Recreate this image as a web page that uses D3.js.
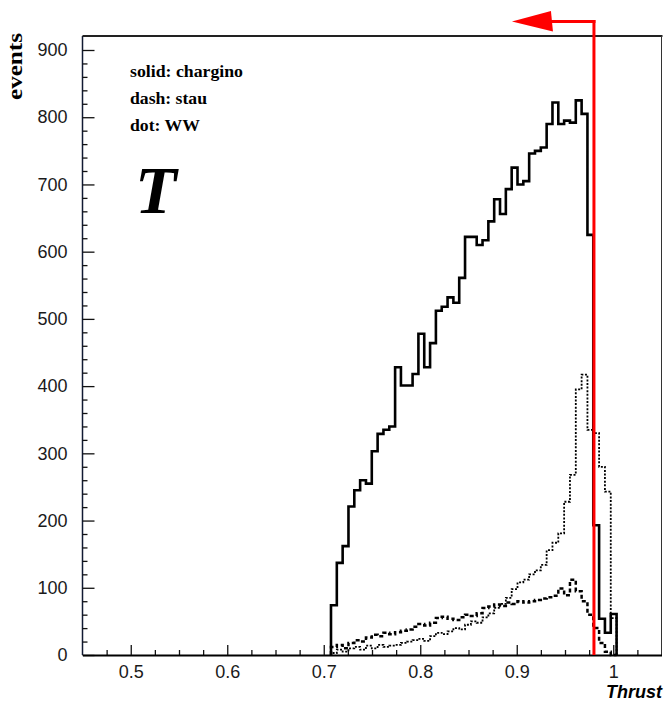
<!DOCTYPE html>
<html>
<head>
<meta charset="utf-8">
<script src="https://cdn.jsdelivr.net/npm/d3@7"></script>
<style>
  body { margin: 0; background: #fff; }
</style>
</head>
<body>
<svg id="chart"></svg>
<script>
// Thrust histograms, 49 equal bins starting at binStart
const binStart = 0.7075;
const binWidth = 0.00604;

// solid: chargino
const chargino = [74, 137, 162, 221, 245, 260, 255, 303, 329, 335, 340, 428, 401, 401, 418, 478, 428, 464, 512, 518,
  532, 524, 561, 622, 622, 610, 617, 645, 678, 656, 693, 725, 700, 705, 746, 750, 755, 790, 822, 790,
  795, 792, 825, 805, 625, 193, 54, 33, 61];
// dash: stau
const stau = [12, 15, 10, 18, 22, 20, 26, 30, 28, 33, 31, 34, 36, 38, 42, 46, 44, 48, 55, 57,
  54, 52, 56, 60, 58, 62, 70, 72, 75, 73, 78, 76, 80, 78, 80, 82, 84, 86, 88, 99,
  89, 112, 95, 80, 60, 40, 18, 5, 0];
// dot: WW
const ww = [3, 8, 5, 10, 12, 8, 14, 10, 15, 12, 14, 15, 18, 20, 22, 24, 21, 28, 33, 31,
  35, 40, 38, 45, 50, 48, 56, 62, 70, 76, 85, 98, 108, 112, 120, 126, 134, 156, 167, 181,
  228, 268, 395, 417, 335, 330, 280, 243, 55];

const xTicks = [0.5, 0.6, 0.7, 0.8, 0.9, 1];
const yTicks = [0, 100, 200, 300, 400, 500, 600, 700, 800, 900];
const cutValue = 0.98;
const legendLines = ["solid: chargino", "dash: stau", "dot: WW"];

const width = 665, height = 702;
const svg = d3.select("#chart").attr("width", width).attr("height", height);

const x = d3.scaleLinear().domain([0.45, 1.05]).range([82.5, 661.5]);
const y = d3.scaleLinear().domain([0, 900]).range([655, 50]);
const frameTop = 36;

// frame
svg.append("line").attr("x1", x.range()[0]).attr("x2", x.range()[0]).attr("y1", frameTop).attr("y2", y(0))
  .attr("stroke", "#111a33").attr("stroke-width", 1.5);
svg.append("line").attr("x1", x.range()[0]).attr("x2", x.range()[1] + 1).attr("y1", frameTop).attr("y2", frameTop)
  .attr("stroke", "#222").attr("stroke-width", 2.2);
svg.append("line").attr("x1", x.range()[1]).attr("x2", x.range()[1]).attr("y1", frameTop).attr("y2", y(0))
  .attr("stroke", "#333").attr("stroke-width", 1);

// y axis (ticks inside the frame)
const yMinor = d3.range(20, 920, 20).filter(d => d % 100 !== 0);
svg.append("g")
  .attr("transform", `translate(${x.range()[0]},0)`)
  .call(d3.axisLeft(y).tickValues(yMinor).tickSizeInner(-5).tickSizeOuter(0).tickFormat(""))
  .call(g => g.select(".domain").remove());
svg.append("g")
  .attr("class", "y-axis")
  .attr("transform", `translate(${x.range()[0]},0)`)
  .call(d3.axisLeft(y).tickValues(yTicks).tickSizeInner(-12).tickSizeOuter(0).tickPadding(15))
  .call(g => g.select(".domain").remove());

// x axis
const xMinor = d3.range(0.475, 1.05, 0.025).filter(d => Math.abs(d * 10 - Math.round(d * 10)) > 0.01);
svg.append("g")
  .attr("transform", `translate(0,${y(0)})`)
  .call(d3.axisBottom(x).tickValues(xMinor).tickSizeInner(-5).tickSizeOuter(0).tickFormat(""))
  .call(g => g.select(".domain").remove());
svg.append("g")
  .attr("class", "x-axis")
  .attr("transform", `translate(0,${y(0)})`)
  .call(d3.axisBottom(x).tickValues(xTicks).tickSizeInner(-10).tickSizeOuter(0).tickPadding(10).tickFormat(d3.format("~g")))
  .call(g => g.select(".domain").attr("stroke-width", 2));

svg.selectAll(".tick line").attr("stroke", "#111").attr("stroke-width", 1.3);
svg.selectAll(".y-axis text, .x-axis text")
  .attr("font-family", "'Liberation Sans', Arial, sans-serif")
  .attr("font-size", 18)
  .attr("fill", "#1a1a1a");

// histograms
function stepPoints(counts) {
  const pts = [[binStart, 0]];
  counts.forEach((c, i) => {
    const lo = binStart + i * binWidth;
    pts.push([lo, c], [lo + binWidth, c]);
  });
  pts.push([binStart + counts.length * binWidth, 0]);
  return pts;
}
const line = d3.line().x(d => x(d[0])).y(d => y(d[1]));

svg.append("path").attr("d", line(stepPoints(ww)))
  .attr("fill", "none").attr("stroke", "#000").attr("stroke-width", 1.8)
  .attr("stroke-dasharray", "2,1.6");
svg.append("path").attr("d", line(stepPoints(stau)))
  .attr("fill", "none").attr("stroke", "#000").attr("stroke-width", 2.5)
  .attr("stroke-dasharray", "4,2.6");
svg.append("path").attr("d", line(stepPoints(chargino)))
  .attr("fill", "none").attr("stroke", "#000").attr("stroke-width", 2.6)
  .attr("stroke-linejoin", "miter");

// cut arrow
const cutX = x(cutValue);
const arrowY = 21.5;
svg.append("line").attr("x1", cutX).attr("x2", cutX).attr("y1", arrowY - 1.5).attr("y2", y(0))
  .attr("stroke", "#ff0000").attr("stroke-width", 3);
svg.append("line").attr("x1", cutX + 1.5).attr("x2", cutX - 44).attr("y1", arrowY).attr("y2", arrowY)
  .attr("stroke", "#ff0000").attr("stroke-width", 3);
svg.append("polygon")
  .attr("points", [[cutX - 82, arrowY], [cutX - 43, arrowY - 10.5], [cutX - 41, arrowY + 10]].map(p => p.join(",")).join(" "))
  .attr("fill", "#ff0000");

// legend text
const legendWidths = [113, 77, 70];
svg.selectAll(".legend")
  .data(legendLines)
  .enter()
  .append("text")
  .attr("class", "legend")
  .attr("x", 130)
  .attr("y", (d, i) => 77 + i * 27)
  .attr("font-family", "'Liberation Serif', 'Times New Roman', serif")
  .attr("font-weight", "bold")
  .attr("font-size", 17.5)
  .attr("textLength", (d, i) => legendWidths[i])
  .attr("lengthAdjust", "spacingAndGlyphs")
  .text(d => d);

svg.append("text")
  .attr("x", 135)
  .attr("y", 213)
  .attr("font-family", "'Liberation Serif', 'Times New Roman', serif")
  .attr("font-weight", "bold")
  .attr("font-style", "italic")
  .attr("font-size", 68)
  .text("T");

// axis titles
svg.append("text")
  .attr("transform", "translate(22,66.5) rotate(-90)")
  .attr("text-anchor", "middle")
  .attr("font-family", "'Liberation Serif', 'Times New Roman', serif")
  .attr("font-weight", "bold")
  .attr("font-size", 22)
  .attr("textLength", 67)
  .attr("lengthAdjust", "spacingAndGlyphs")
  .text("events");

svg.append("text")
  .attr("x", 662)
  .attr("y", 698)
  .attr("text-anchor", "end")
  .attr("font-family", "'Liberation Sans', Arial, sans-serif")
  .attr("font-weight", "bold")
  .attr("font-style", "italic")
  .attr("font-size", 18)
  .text("Thrust");
</script>
</body>
</html>
